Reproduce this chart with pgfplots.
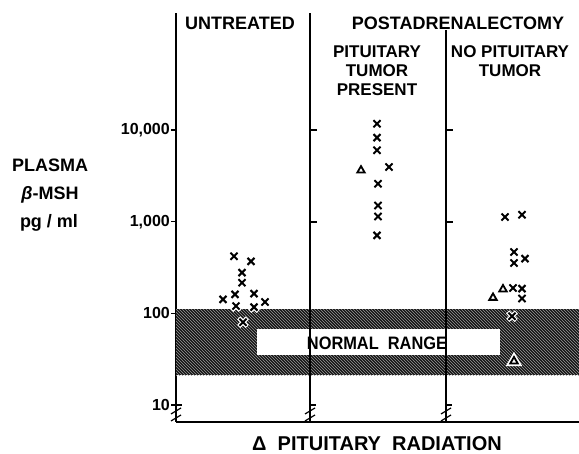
\documentclass[border=0pt]{standalone}
\usepackage{pgfplots}
\pgfplotsset{compat=1.18}
\usepackage{fontspec}
\setmainfont{Liberation Sans}
\usetikzlibrary{patterns}
\begin{document}
\begin{tikzpicture}
\begin{axis}[
  at={(176pt,32pt)}, anchor=south west,
  scale only axis, width=403pt, height=409pt,
  xmin=176, xmax=579, ymode=log, ymin=6.53, ymax=188800,
  axis x line*=bottom, axis y line*=left,
  axis line style={line width=1.3pt},
  xtick=\empty,
  ytick={10,100,1000,10000},
  yticklabels={10,100,{1,000},{10,000}},
  yminorticks=false,
  tick align=outside,
  major tick length=5pt,
  tick style={line width=1.2pt, black},
  yticklabel style={font=\bfseries\fontsize{16}{16}\selectfont, inner sep=1pt},
  clip=false,
]
% normal range band
\addplot[draw=none, fill=black!92] coordinates {(176,21.1) (579,21.1) (579,110.6) (176,110.6)} -- cycle;
\addplot[draw=none, pattern=north west lines, pattern color=white!60!black] coordinates {(176,21.1) (579,21.1) (579,110.6) (176,110.6)} -- cycle;
\addplot[draw=none, fill=white] coordinates {(257,34.8) (500,34.8) (500,66.9) (257,66.9)} -- cycle;
% separators
\addplot[black, line width=1.2pt] coordinates {(310,6.53) (310,188800)};
\addplot[black, line width=1.1pt] coordinates {(446,6.53) (446,122000)};
% X points: white halo then black
\addplot[only marks, mark=x, mark size=6pt, white, mark options={line width=4.5pt}] table {
x y
236 120
254 117
243 80
512 93
};
\addplot[only marks, mark=x, mark size=5pt, black, mark options={line width=2pt}] table {
x y
234 419
251 369
242 278
242 216
223 142
235 161
254 164
265 133
236 120
254 117
243 80
377 11700
377 8250
377 6000
389 3940
378 2590
378 1500
378 1140
377 709
505 1122
522 1191
514 466
514 354
525 395
513 189
522 186
522 145
512 93
};
% triangles: pituitary radiation
\addplot[only marks, mark=triangle*, mark size=5.5pt, white, mark options={line width=4pt}] table {
x y
514 30
};
\addplot[only marks, mark=triangle*, mark size=4.3pt, black, mark options={fill=white, line width=1.8pt}] table {
x y
361 3620
493 148
503 183
514 30
};
\end{axis}
% extra ticks and axis breaks
\foreach \X in {176,310,446} {
  \draw[line width=1.2pt] (\X pt,49pt) -- (\X pt+6pt,49pt);
  \draw[line width=1.2pt] (\X pt-5pt,40pt) -- (\X pt+5pt,46pt);
  \draw[line width=1.2pt] (\X pt-5pt,33pt) -- (\X pt+5pt,39pt);
}
\foreach \X in {310,446} {
  \draw[line width=1.2pt] (\X pt,324pt) -- (\X pt+7pt,324pt);
  \draw[line width=1.2pt] (\X pt,232pt) -- (\X pt+7pt,232pt);
}
% texts
\begin{scope}[every node/.style={font=\bfseries\fontsize{18}{19}\selectfont, inner sep=0pt}]
\node at (50pt,289pt) {PLASMA};
\node at (50pt,259pt) {{\itshape β}-MSH};
\node at (49pt,231pt) {pg / ml};
\node at (240pt,431pt) {UNTREATED};
\node at (458pt,431pt) {POSTADRENALECTOMY};
\node[align=center, font=\bfseries\fontsize{17}{19}\selectfont] at (377pt,383pt) {PITUITARY\\TUMOR\\PRESENT};
\node[align=center, font=\bfseries\fontsize{17}{19}\selectfont] at (510pt,392.5pt) {NO PITUITARY\\TUMOR};
\node at (377pt,111pt) {\scalebox{0.91}[1]{\bfseries NORMAL\ \ RANGE}};
\node[font=\bfseries\fontsize{20}{20}\selectfont] at (377pt,10pt) {Δ\ \ PITUITARY\ \ RADIATION};
\end{scope}
\pgfresetboundingbox
\useasboundingbox (0,0) rectangle (579pt,454pt);
\end{tikzpicture}
\end{document}
